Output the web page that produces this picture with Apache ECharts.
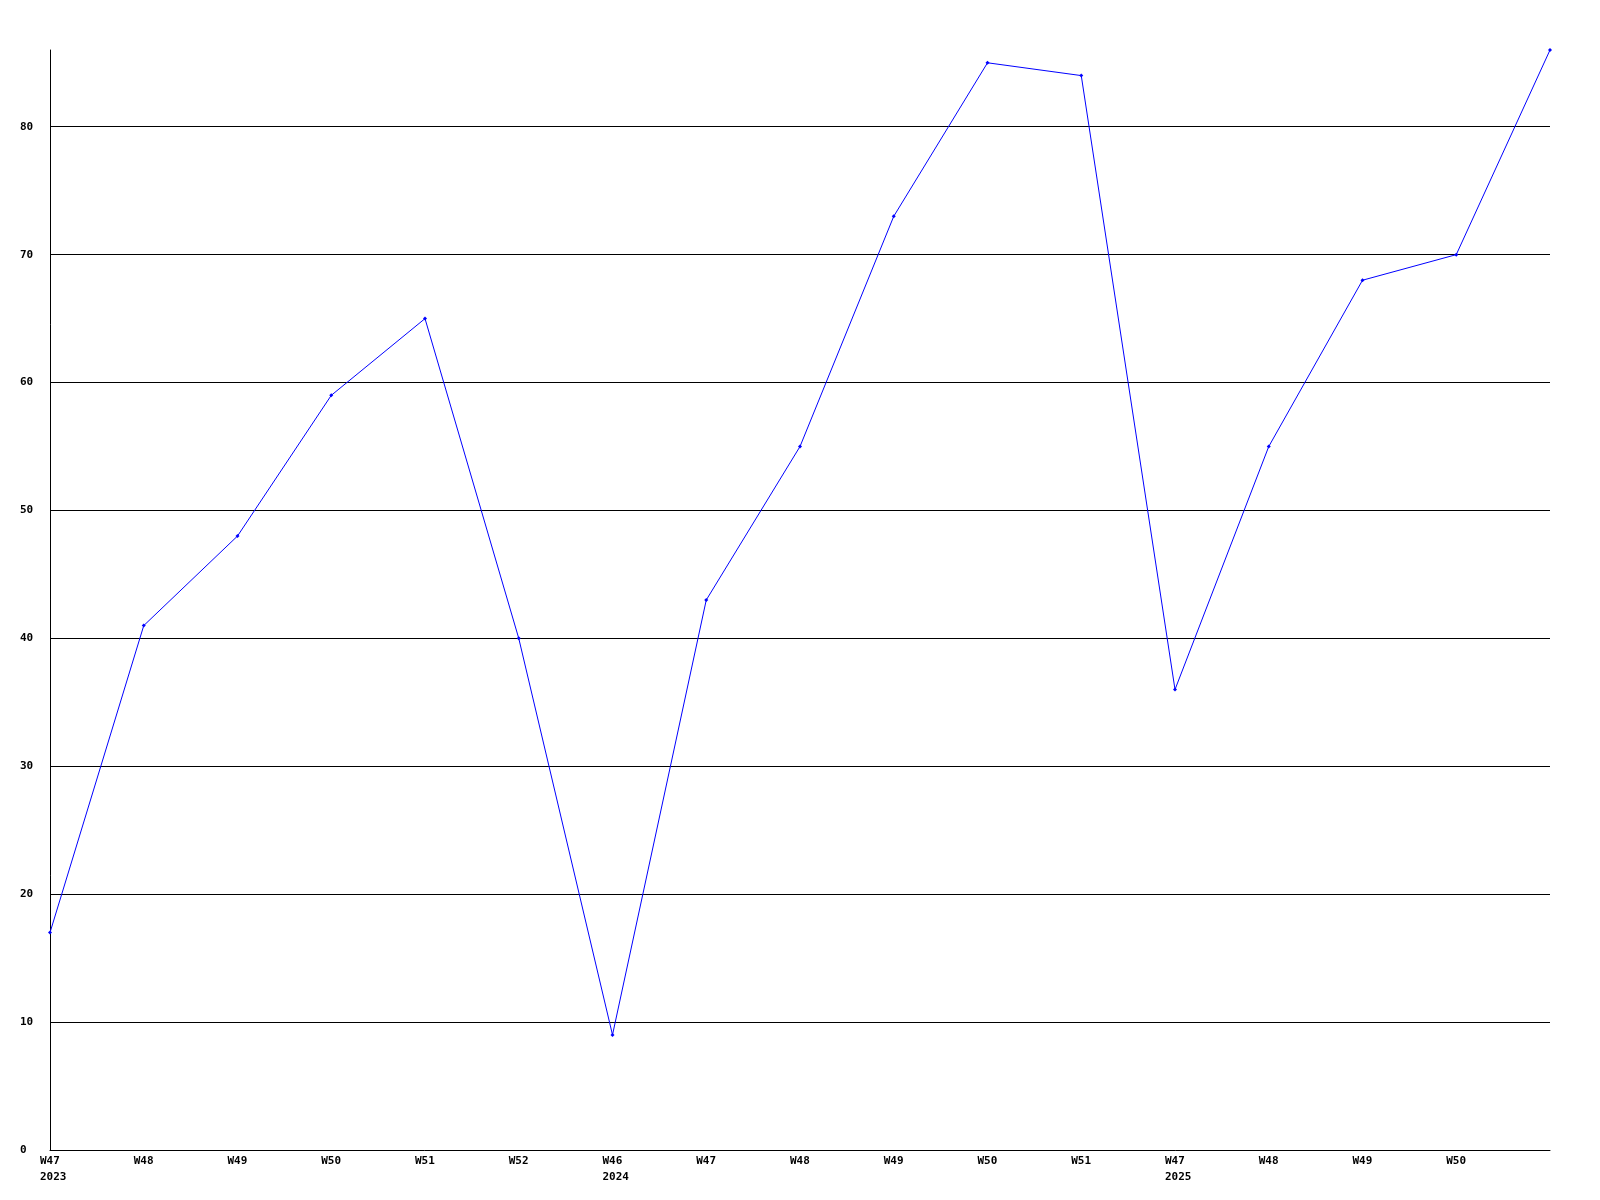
<!DOCTYPE html>
<html>
<head>
<meta charset="utf-8">
<script src="https://cdn.jsdelivr.net/npm/echarts@6/dist/echarts.min.js"></script>
<style>
  html, body { margin: 0; padding: 0; background: #fff; }
  #chart { width: 1600px; height: 1200px; }
</style>
</head>
<body>
<div id="chart"></div>
<script>
// week labels, with the year on a second line where a new year starts
var weeks = ["W47\n2023", "W48", "W49", "W50", "W51", "W52", "W46\n2024", "W47", "W48",
  "W49", "W50", "W51", "W47\n2025", "W48", "W49", "W50", ""];
var values = [17, 41, 48, 59, 65, 40, 9, 43, 55, 73, 85, 84, 36, 55, 68, 70, 86];
var yMax = 86;

var labelFont = { fontFamily: "DejaVu Sans Mono", fontWeight: "bold", fontSize: 11, color: "#000" };

var chart = echarts.init(document.getElementById("chart"));
chart.setOption({
  animation: false,
  backgroundColor: "#fff",
  grid: { left: 50, right: 50, top: 50, bottom: 50, containLabel: false },
  xAxis: {
    type: "category",
    boundaryGap: false,
    data: weeks,
    axisLine: { lineStyle: { color: "#000", width: 1 } },
    axisTick: { show: false },
    axisLabel: Object.assign({
      interval: 0,
      margin: 3,
      lineHeight: 16,
      // both lines start where the week label starts
      formatter: function (v) {
        if (!v) return "";
        return v.split("\n").map(function (s) { return "{w|" + s + "}"; }).join("\n");
      },
      rich: { w: Object.assign({ width: 20, align: "left", lineHeight: 16 }, labelFont) }
    }, labelFont),
    splitLine: { show: false }
  },
  yAxis: {
    type: "value",
    min: 0,
    max: yMax,
    interval: 10,
    axisLine: { show: true, lineStyle: { color: "#000", width: 1 } },
    axisTick: { show: false },
    axisLabel: Object.assign({
      margin: 30,
      align: "left",
      showMaxLabel: false,
      formatter: function (v) { return v % 10 === 0 ? String(v) : ""; }
    }, labelFont),
    splitLine: { show: true, showMinLine: false, showMaxLine: false, lineStyle: { color: "#000", width: 1 } }
  },
  series: [{
    type: "line",
    data: values,
    symbol: "diamond",
    symbolSize: 4,
    showAllSymbol: true,
    lineStyle: { color: "#0000ff", width: 1 },
    itemStyle: { color: "#0000ff" }
  }]
});
</script>
</body>
</html>
